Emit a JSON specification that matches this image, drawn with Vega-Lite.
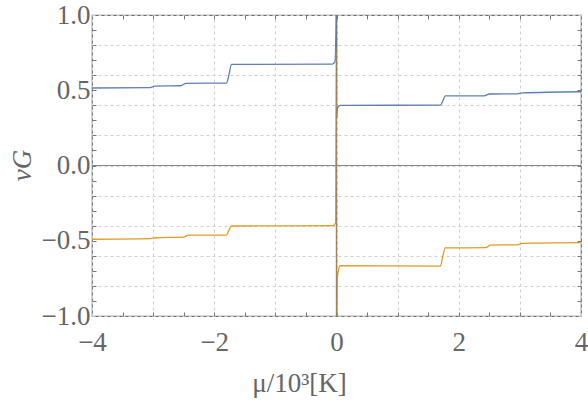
{
  "$schema": "https://vega.github.io/schema/vega-lite/v6.json",
  "width": 489,
  "height": 301,
  "autosize": {"type": "none"},
  "padding": {"left": 92, "top": 15, "right": 7, "bottom": 84},
  "config": {
    "font": "Liberation Serif",
    "view": {"stroke": "#6f6f6f", "strokeWidth": 1.2},
    "axis": {
      "labelColor": "#666666",
      "titleColor": "#666666",
      "labelFont": "Liberation Serif",
      "titleFont": "Liberation Serif",
      "labelFontSize": 27,
      "titleFontSize": 27,
      "titleFontWeight": "normal",
      "gridColor": "#d0d0d0",
      "gridDash": [3, 3],
      "gridWidth": 1,
      "tickColor": "#777777",
      "domain": false
    }
  },
  "resolve": {
    "scale": {"x": "shared", "y": "shared"},
    "axis": {"x": "independent", "y": "independent"}
  },
  "layer": [
    {
      "data": {"values": [{"v": 0}]},
      "mark": {"type": "rule", "color": "#888888", "strokeWidth": 1.2},
      "encoding": {
        "y": {"field": "v", "type": "quantitative", "scale": {"domain": [-1, 1], "nice": false, "zero": false},
          "axis": {"orient": "left", "values": [-1, -0.8, -0.6, -0.4, -0.2, 0, 0.2, 0.4, 0.6, 0.8, 1], "labels": false, "ticks": false, "grid": true, "title": null}}
      }
    },
    {
      "data": {"values": [{"v": 0}]},
      "mark": {"type": "rule", "color": "#888888", "strokeWidth": 1.2},
      "encoding": {
        "y": {"field": "v", "type": "quantitative",
          "axis": {"orient": "right", "values": [-0.9, -0.8, -0.7, -0.6, -0.5, -0.4, -0.3, -0.2, -0.1, 0, 0.1, 0.2, 0.3, 0.4, 0.5, 0.6, 0.7, 0.8, 0.9], "labels": false, "ticks": true, "tickSize": -4, "grid": false, "title": null}}
      }
    },
    {
      "data": {"values": [{"v": 0}]},
      "mark": {"type": "rule", "color": "#888888", "strokeWidth": 1.2},
      "encoding": {
        "y": {"field": "v", "type": "quantitative",
          "axis": {"orient": "left", "values": [-0.9, -0.8, -0.7, -0.6, -0.5, -0.4, -0.3, -0.2, -0.1, 0, 0.1, 0.2, 0.3, 0.4, 0.5, 0.6, 0.7, 0.8, 0.9], "labels": false, "ticks": true, "tickSize": -4, "grid": false, "title": null}}
      }
    },
    {
      "data": {"values": [{"v": 0}]},
      "mark": {"type": "rule", "color": "#888888", "strokeWidth": 1.2, "opacity": 0},
      "encoding": {
        "x": {"field": "v", "type": "quantitative",
          "axis": {"orient": "top", "values": [-3.5, -3, -2.5, -2, -1.5, -1, -0.5, 0, 0.5, 1, 1.5, 2, 2.5, 3, 3.5], "labels": false, "ticks": true, "tickSize": -4, "grid": false, "title": null}}
      }
    },
    {
      "data": {"values": [{"v": 0}]},
      "mark": {"type": "rule", "color": "#888888", "strokeWidth": 1.2, "opacity": 0},
      "encoding": {
        "x": {"field": "v", "type": "quantitative",
          "axis": {"orient": "bottom", "values": [-3.5, -3, -2.5, -2, -1.5, -1, -0.5, 0, 0.5, 1, 1.5, 2, 2.5, 3, 3.5], "labels": false, "ticks": true, "tickSize": -4, "grid": false, "title": null}}
      }
    },
    {
      "data": {"values": [
        {"s": "a", "x": -4.0, "y": 0.515},
        {"s": "a", "x": -3.05, "y": 0.518},
        {"s": "a", "x": -2.97, "y": 0.528},
        {"s": "a", "x": -2.55, "y": 0.530},
        {"s": "a", "x": -2.46, "y": 0.546},
        {"s": "a", "x": -1.80, "y": 0.548},
        {"s": "a", "x": -1.76, "y": 0.600},
        {"s": "a", "x": -1.72, "y": 0.672},
        {"s": "a", "x": -0.07, "y": 0.673},
        {"s": "a", "x": -0.025, "y": 0.69},
        {"s": "a", "x": -0.006, "y": 1.0},
        {"s": "a", "x": 0.0, "y": 1.3},
        {"s": "a", "x": 0.002, "y": 0.31},
        {"s": "a", "x": 0.015, "y": 0.38},
        {"s": "a", "x": 0.06, "y": 0.400},
        {"s": "a", "x": 1.70, "y": 0.401},
        {"s": "a", "x": 1.74, "y": 0.43},
        {"s": "a", "x": 1.78, "y": 0.462},
        {"s": "a", "x": 2.42, "y": 0.463},
        {"s": "a", "x": 2.50, "y": 0.475},
        {"s": "a", "x": 2.96, "y": 0.476},
        {"s": "a", "x": 3.04, "y": 0.482},
        {"s": "a", "x": 4.0, "y": 0.490},
        {"s": "b", "x": -4.0, "y": -0.490},
        {"s": "b", "x": -3.04, "y": -0.486},
        {"s": "b", "x": -2.96, "y": -0.480},
        {"s": "b", "x": -2.50, "y": -0.476},
        {"s": "b", "x": -2.42, "y": -0.463},
        {"s": "b", "x": -1.80, "y": -0.462},
        {"s": "b", "x": -1.76, "y": -0.43},
        {"s": "b", "x": -1.72, "y": -0.402},
        {"s": "b", "x": -0.06, "y": -0.400},
        {"s": "b", "x": -0.015, "y": -0.38},
        {"s": "b", "x": -0.003, "y": 0.77},
        {"s": "b", "x": 0.002, "y": -1.2},
        {"s": "b", "x": 0.015, "y": -0.74},
        {"s": "b", "x": 0.06, "y": -0.666},
        {"s": "b", "x": 1.70, "y": -0.668},
        {"s": "b", "x": 1.74, "y": -0.60},
        {"s": "b", "x": 1.78, "y": -0.548},
        {"s": "b", "x": 2.44, "y": -0.546},
        {"s": "b", "x": 2.52, "y": -0.529},
        {"s": "b", "x": 2.96, "y": -0.527},
        {"s": "b", "x": 3.04, "y": -0.517},
        {"s": "b", "x": 4.0, "y": -0.513}
      ]},
      "mark": {"type": "line", "clip": true, "strokeWidth": 1.3, "interpolate": "monotone"},
      "encoding": {
        "x": {"field": "x", "type": "quantitative",
          "axis": {"orient": "bottom", "values": [-4, -2, 0, 2, 4], "grid": false, "ticks": false, "labelPadding": 13, "labelFlush": false,
            "title": "μ/10³[K]", "titleX": 207, "titleY": 75, "titleAlign": "center", "titleBaseline": "alphabetic"}},
        "y": {"field": "y", "type": "quantitative",
          "axis": {"orient": "left", "values": [-1, -0.5, 0, 0.5, 1], "format": ".1f", "grid": false, "ticks": false, "labelPadding": 2, "labelFlush": false,
            "title": "νG", "titleFontStyle": "italic", "titleX": -62, "titleY": 150, "titleAlign": "center", "titleBaseline": "alphabetic", "titleAngle": -90}},
        "color": {"field": "s", "type": "nominal", "scale": {"domain": ["a", "b"], "range": ["#5e81b5", "#e19c24"]}, "legend": null}
      }
    },
    {
      "data": {"values": [{"v": 0}]},
      "mark": {"type": "rule", "color": "#777777", "strokeWidth": 1.3, "opacity": 0.6},
      "encoding": {
        "x": {"field": "v", "type": "quantitative", "scale": {"domain": [-4, 4], "nice": false, "zero": false},
          "axis": {"orient": "bottom", "values": [-4, -3, -2, -1, 0, 1, 2, 3, 4], "labels": false, "ticks": false, "grid": true, "title": null}}
      }
    }
  ]
}
